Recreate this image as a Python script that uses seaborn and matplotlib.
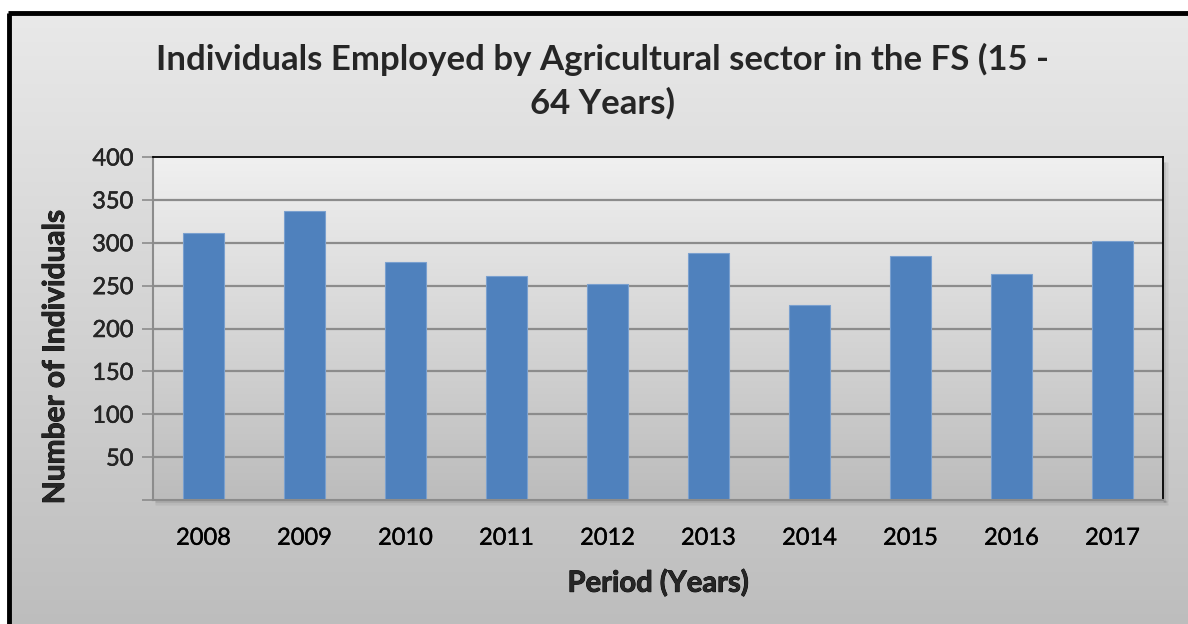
import numpy as np
import pandas as pd
import matplotlib
matplotlib.use("Agg")
import matplotlib.pyplot as plt
import matplotlib.patheffects as pe
from matplotlib.colors import LinearSegmentedColormap
import seaborn as sns

years = ["2008", "2009", "2010", "2011", "2012", "2013", "2014", "2015", "2016", "2017"]
individuals = [311, 337, 277, 261, 252, 288, 227, 285, 263, 302]
y_ticks = [0, 50, 100, 150, 200, 250, 300, 350, 400]
y_tick_labels = ["", "50", "100", "150", "200", "250", "300", "350", "400"]

title = "Individuals Employed by Agricultural sector in the FS (15 -\n64 Years)"
x_label = "Period (Years)"
y_label = "Number of Individuals"

sns.set_theme(style="white")
plt.rcParams["font.family"] = ["Lato", "DejaVu Sans"]

W, H = 1188, 624
fig = plt.figure(figsize=(W / 100, H / 100), dpi=100)
fig.patch.set_facecolor("white")

# chart-area background: vertical gradient with a black frame
bg = fig.add_axes([0, 0, 1, 1], zorder=-10)
bg.set_xlim(0, W)
bg.set_ylim(0, H)
bg.axis("off")
chart_cmap = LinearSegmentedColormap.from_list("chart", ["#bdbdbd", "#e9e9e9"])
grad = np.linspace(0, 1, 256).reshape(-1, 1)
bg.imshow(grad, cmap=chart_cmap, origin="lower", aspect="auto",
          extent=[9, W + 5, -5, H - 13], interpolation="bicubic")
bg.plot([9, 9], [-5, H - 13], color="black", lw=3.5, solid_capstyle="butt")
bg.plot([7.5, W + 5], [H - 13, H - 13], color="black", lw=3.5, solid_capstyle="butt")

# soft shadow under and right of the plot area
left_px, right_px, bot_px, top_px = 153, 1163, 124, 467
for i in range(7):
    a = 0.07 * (1 - i / 7)
    bg.plot([left_px + 3, right_px + 3 + i * 0.4], [bot_px - 1 - i * 0.7] * 2,
            color="black", alpha=a, lw=1.2)
    bg.plot([right_px + 1 + i * 0.7] * 2, [bot_px - 2, top_px - 6],
            color="black", alpha=a, lw=1.2)

ax = fig.add_axes([left_px / W, bot_px / H, (right_px - left_px) / W, (top_px - bot_px) / H])
ax.set_facecolor("none")

# plot-area gradient
plot_cmap = LinearSegmentedColormap.from_list("plot", ["#bcbcbc", "#f0f0f0"])
ax.imshow(grad, cmap=plot_cmap, origin="lower", aspect="auto",
          extent=[0, 1, 0, 1], transform=ax.transAxes, zorder=0, interpolation="bicubic")

df = pd.DataFrame({"Year": years, "Individuals": individuals})
sns.barplot(data=df, x="Year", y="Individuals", color="#4f81bd", width=0.4,
            saturation=1, edgecolor="#7aa0cf", linewidth=0.8, ax=ax, zorder=3)

ax.set_xlim(-0.5, len(years) - 0.5)
ax.set_ylim(0, 400)
ax.set_yticks(y_ticks)
ax.set_yticklabels(y_tick_labels)
for v in y_ticks[1:-1]:
    ax.axhline(v, color="#8c8c8c", lw=1.6, zorder=1)

ax.set_xticks(range(len(years)))
ax.set_xticklabels(years)
ax.set_xticks(np.arange(-0.5, len(years), 1.0), minor=True)
ax.tick_params(axis="x", which="major", length=0, pad=20, labelsize=17, colors="black")
ax.tick_params(axis="x", which="minor", length=8, width=1, color="#8c8c8c", direction="out")
ax.tick_params(axis="y", which="major", length=8, width=1.2, color="#8c8c8c",
               direction="out", labelsize=17, pad=6, left=True)
for lbl in ax.get_xticklabels() + ax.get_yticklabels():
    lbl.set_path_effects([pe.withStroke(linewidth=0.3, foreground="black")])

for side in ("left", "bottom"):
    ax.spines[side].set_color("#8c8c8c")
    ax.spines[side].set_linewidth(1.5)
for side in ("top", "right"):
    ax.spines[side].set_color("black")
    ax.spines[side].set_linewidth(1.3)
for s in ax.spines.values():
    s.set_visible(True)
    s.set_zorder(4)

bold_fx = [pe.withStroke(linewidth=0.6, foreground="black")]
ax.set_xlabel(x_label, fontsize=21, fontweight="bold", labelpad=15, path_effects=bold_fx)
ax.set_ylabel("")
fig.text(55 / W, 1 - 357 / H, y_label, rotation=90, ha="center", va="center",
         fontsize=21.5, fontweight="bold", path_effects=bold_fx)

fig.text(602 / W, 1 - 81 / H, title, ha="center", va="center", fontsize=25,
         fontweight="bold", linespacing=1.4)

fig.savefig("out.png", dpi=100, facecolor="white")
